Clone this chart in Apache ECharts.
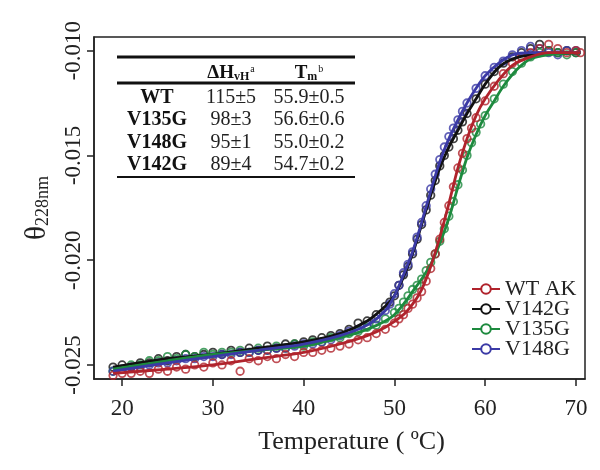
<!DOCTYPE html>
<html><head><meta charset="utf-8">
<script src="https://cdn.jsdelivr.net/npm/echarts@6/dist/echarts.min.js"></script>
<style>html,body{margin:0;padding:0;background:#fff}#c{width:600px;height:470px}</style>
</head><body><div id="c"></div>
<script>
const seriesNames = ['WT AK', 'V142G', 'V135G', 'V148G'];
const colors = ['#b0232c', '#111111', '#1d8a3e', '#3b3aa6'];
const xTicks = [20, 30, 40, 50, 60, 70];
const yTicks = [-0.025, -0.020, -0.015, -0.010];

const tableRows = ['WT', 'V135G', 'V148G', 'V142G'];
const tableDH = ['115±5', '98±3', '95±1', '89±4'];
const tableTm = ['55.9±0.5', '56.6±0.6', '55.0±0.2', '54.7±0.2'];

const fitWT = [[19,-0.0254],[25,-0.0252],[30,-0.0250],[35,-0.0247],[40,-0.0244],[44,-0.0240],[47,-0.0236],[49,-0.0232],[51,-0.0226],[52,-0.0221],[53,-0.0214],[54,-0.0203],[55,-0.0189],[56,-0.0173],[57,-0.0156],[58,-0.0142],[59,-0.0131],[60,-0.0123],[61.5,-0.0114],[63,-0.0107],[65,-0.0103],[67,-0.0101],[70.5,-0.0101]];
const fitV142G = [[19,-0.0251],[25,-0.0247],[30,-0.0245],[35,-0.0242],[40,-0.0239],[44,-0.0235],[47,-0.0229],[49,-0.0222],[50,-0.0217],[51,-0.0208],[52,-0.0197],[53,-0.0183],[54,-0.0169],[55,-0.0156],[56,-0.0146],[57,-0.0138],[58,-0.0130],[59,-0.0123],[60,-0.0116],[61.5,-0.0108],[63,-0.0104],[65,-0.0102],[70.5,-0.0101]];
const fitV135G = [[19,-0.0252],[25,-0.0248],[30,-0.0245],[35,-0.0243],[40,-0.0241],[44,-0.0237],[47,-0.0233],[49,-0.0229],[50,-0.0226],[51,-0.0221],[52,-0.0215],[53,-0.0209],[54,-0.0202],[55,-0.0192],[56,-0.0180],[57,-0.0165],[58,-0.0151],[59,-0.0140],[60,-0.0131],[61,-0.0124],[62,-0.0117],[63.5,-0.0109],[65,-0.0104],[67,-0.0102],[70.5,-0.0101]];
const fitV148G = [[19,-0.0253],[25,-0.0249],[30,-0.0246],[35,-0.0243],[40,-0.0240],[44,-0.0236],[47,-0.0231],[49,-0.0224],[50,-0.0217],[51,-0.0207],[52,-0.0196],[53,-0.0182],[54,-0.0167],[55,-0.0153],[56,-0.0142],[57,-0.0133],[58,-0.0125],[59,-0.0118],[60,-0.0112],[61.5,-0.0106],[63,-0.0102],[65,-0.0101],[70.5,-0.0101]];

const ptsWT = [[19,-0.0255],[20,-0.0254],[21,-0.0254],[22,-0.0253],[23,-0.0254],[24,-0.0252],[25,-0.0253],[26,-0.0251],[27,-0.0252],[28,-0.0250],[29,-0.0251],[30,-0.0249],[31,-0.0250],[32,-0.0248],[33,-0.0253],[34,-0.0247],[35,-0.0248],[36,-0.0246],[37,-0.0247],[38,-0.0245],[39,-0.0246],[40,-0.0244],[41,-0.0244],[42,-0.0243],[43,-0.0242],[44,-0.0241],[45,-0.0240],[46,-0.0238],[47,-0.0237],[48,-0.0235],[49,-0.0233],[50,-0.0230],[50.5,-0.0228],[51,-0.0226],[51.5,-0.0223],[52,-0.0221],[52.5,-0.0218],[53,-0.0215],[53.5,-0.0210],[54,-0.0204],[54.5,-0.0197],[55,-0.0190],[55.5,-0.0182],[56,-0.0174],[56.5,-0.0165],[57,-0.0156],[57.5,-0.0149],[58,-0.0142],[58.5,-0.0137],[59,-0.0132],[60,-0.0124],[61,-0.0117],[62,-0.0111],[63,-0.0106],[64,-0.0103],[65,-0.0101],[66,-0.0099],[67,-0.0097],[68,-0.0099],[69,-0.0101],[70,-0.0100],[70.5,-0.0101]];
const ptsV142G = [[19,-0.0251],[20,-0.0250],[21,-0.0251],[22,-0.0249],[23,-0.0249],[24,-0.0247],[25,-0.0248],[26,-0.0246],[27,-0.0245],[28,-0.0246],[29,-0.0245],[30,-0.0244],[31,-0.0245],[32,-0.0243],[33,-0.0244],[34,-0.0242],[35,-0.0243],[36,-0.0241],[37,-0.0242],[38,-0.0240],[39,-0.0240],[40,-0.0239],[41,-0.0238],[42,-0.0237],[43,-0.0236],[44,-0.0235],[45,-0.0233],[46,-0.0230],[47,-0.0229],[48,-0.0226],[49,-0.0222],[49.5,-0.0220],[50,-0.0217],[50.5,-0.0212],[51,-0.0207],[51.5,-0.0203],[52,-0.0197],[52.5,-0.0190],[53,-0.0183],[53.5,-0.0176],[54,-0.0169],[54.5,-0.0162],[55,-0.0155],[55.5,-0.0150],[56,-0.0146],[56.5,-0.0142],[57,-0.0138],[57.5,-0.0134],[58,-0.0130],[59,-0.0123],[60,-0.0116],[61,-0.0110],[62,-0.0106],[63,-0.0103],[64,-0.0101],[65,-0.0099],[66,-0.0097],[67,-0.0100],[68,-0.0101],[69,-0.0100],[70,-0.0101]];
const ptsV135G = [[19,-0.0253],[20,-0.0252],[21,-0.0250],[22,-0.0250],[23,-0.0248],[24,-0.0248],[25,-0.0246],[26,-0.0247],[27,-0.0245],[28,-0.0246],[29,-0.0244],[30,-0.0245],[31,-0.0244],[32,-0.0244],[33,-0.0243],[34,-0.0244],[35,-0.0242],[36,-0.0243],[37,-0.0241],[38,-0.0242],[39,-0.0240],[40,-0.0241],[41,-0.0239],[42,-0.0239],[43,-0.0237],[44,-0.0237],[45,-0.0235],[46,-0.0234],[47,-0.0232],[48,-0.0231],[49,-0.0228],[50,-0.0225],[50.5,-0.0223],[51,-0.0220],[51.5,-0.0217],[52,-0.0214],[52.5,-0.0212],[53,-0.0209],[53.5,-0.0205],[54,-0.0201],[54.5,-0.0197],[55,-0.0191],[55.5,-0.0185],[56,-0.0179],[56.5,-0.0172],[57,-0.0164],[57.5,-0.0157],[58,-0.0150],[58.5,-0.0144],[59,-0.0139],[59.5,-0.0135],[60,-0.0131],[61,-0.0123],[62,-0.0116],[63,-0.0110],[64,-0.0106],[65,-0.0103],[66,-0.0101],[67,-0.0100],[68,-0.0101],[69,-0.0102],[70,-0.0101]];
const ptsV148G = [[19,-0.0253],[20,-0.0252],[21,-0.0251],[22,-0.0251],[23,-0.0250],[24,-0.0249],[25,-0.0249],[26,-0.0248],[27,-0.0247],[28,-0.0247],[29,-0.0246],[30,-0.0246],[31,-0.0245],[32,-0.0245],[33,-0.0244],[34,-0.0244],[35,-0.0243],[36,-0.0243],[37,-0.0242],[38,-0.0242],[39,-0.0241],[40,-0.0240],[41,-0.0240],[42,-0.0239],[43,-0.0238],[44,-0.0236],[45,-0.0234],[46,-0.0233],[47,-0.0231],[48,-0.0228],[49,-0.0224],[49.5,-0.0221],[50,-0.0216],[50.5,-0.0212],[51,-0.0206],[51.5,-0.0202],[52,-0.0196],[52.5,-0.0189],[53,-0.0182],[53.5,-0.0174],[54,-0.0166],[54.5,-0.0159],[55,-0.0152],[55.5,-0.0146],[56,-0.0141],[56.5,-0.0137],[57,-0.0133],[57.5,-0.0129],[58,-0.0125],[59,-0.0118],[60,-0.0112],[61,-0.0108],[62,-0.0105],[63,-0.0102],[64,-0.0100],[65,-0.0098],[66,-0.0099],[67,-0.0101],[68,-0.0102],[69,-0.0100],[70,-0.0100]];

const fits = [fitWT, fitV142G, fitV135G, fitV148G];
const pts = [ptsWT, ptsV142G, ptsV135G, ptsV148G];

const SERIF = '"Liberation Serif", "DejaVu Serif", serif';
const chart = echarts.init(document.getElementById('c'));

const drawOrder = [1, 2, 3, 0];
const series = [];
drawOrder.forEach((i, k) => {
  series.push({
    name: seriesNames[i], type: 'line', data: fits[i], smooth: 0.3,
    symbol: 'emptyCircle', symbolSize: 8, showSymbol: false,
    lineStyle: { color: colors[i], width: 2.8 },
    itemStyle: { color: colors[i], borderColor: colors[i], borderWidth: 2.5 },
    z: 10 + k, silent: true
  });
});
drawOrder.forEach((i, k) => {
  series.push({
    name: seriesNames[i], type: 'scatter', data: pts[i],
    symbol: 'circle', symbolSize: 7.5,
    itemStyle: { color: 'rgba(255,255,255,0)', borderColor: colors[i], borderWidth: 1.8 },
    z: 2 + k, silent: true
  });
});

// table graphics
const tblX0 = 117, tblX1 = 355;
const colX = [157, 231, 309];
const rowY = [98, 120, 143, 165];
const graphics = [
  { type: 'line', shape: { x1: tblX0, y1: 57, x2: tblX1, y2: 57 }, style: { stroke: '#111', lineWidth: 3 } },
  { type: 'line', shape: { x1: tblX0, y1: 83, x2: tblX1, y2: 83 }, style: { stroke: '#111', lineWidth: 3 } },
  { type: 'line', shape: { x1: tblX0, y1: 177, x2: tblX1, y2: 177 }, style: { stroke: '#111', lineWidth: 2 } },
  { type: 'text', x: colX[1], y: 73, style: {
      text: '{m|ΔH}{s|vH}{p|a}', align: 'center', verticalAlign: 'middle',
      rich: { m: { fontFamily: SERIF, fontSize: 19, fontWeight: 'bold', fill: '#111' },
              s: { fontFamily: SERIF, fontSize: 12, fontWeight: 'bold', fill: '#111', padding: [8, 0, 0, 0] },
              p: { fontFamily: SERIF, fontSize: 10, fill: '#111', padding: [0, 0, 8, 1] } } } },
  { type: 'text', x: colX[2], y: 73, style: {
      text: '{m|T}{s|m}{p|b}', align: 'center', verticalAlign: 'middle',
      rich: { m: { fontFamily: SERIF, fontSize: 19, fontWeight: 'bold', fill: '#111' },
              s: { fontFamily: SERIF, fontSize: 12, fontWeight: 'bold', fill: '#111', padding: [8, 0, 0, 0] },
              p: { fontFamily: SERIF, fontSize: 10, fill: '#111', padding: [0, 0, 8, 1] } } } }
];
tableRows.forEach((r, i) => {
  graphics.push({ type: 'text', x: colX[0], y: rowY[i], style: { text: r, align: 'center', verticalAlign: 'middle', fontFamily: SERIF, fontSize: 20, fontWeight: 'bold', fill: '#111' } });
  graphics.push({ type: 'text', x: colX[1], y: rowY[i], style: { text: tableDH[i], align: 'center', verticalAlign: 'middle', fontFamily: SERIF, fontSize: 20, fill: '#222' } });
  graphics.push({ type: 'text', x: colX[2], y: rowY[i], style: { text: tableTm[i], align: 'center', verticalAlign: 'middle', fontFamily: SERIF, fontSize: 20, fill: '#222' } });
});

chart.setOption({
  animation: false,
  backgroundColor: '#fff',
  grid: { left: 94, right: 15, top: 37, bottom: 91, show: true, borderColor: '#222', borderWidth: 1.5, backgroundColor: 'transparent' },
  legend: {
    data: seriesNames, orient: 'vertical', left: 466, top: 273,
    itemWidth: 28, itemHeight: 12, itemGap: -2,
    textStyle: { fontFamily: SERIF, fontSize: 22, color: '#222', lineHeight: 19 },
    selectedMode: false
  },
  xAxis: {
    type: 'value', min: 16.9, max: 71,
    name: 'Temperature ( ºC)', nameLocation: 'middle', nameGap: 50,
    nameTextStyle: { fontFamily: SERIF, fontSize: 26, color: '#222', padding: [0, 0, 0, 24] },
    axisLine: { show: true, onZero: false, lineStyle: { color: '#222', width: 1.5 } },
    axisTick: { show: true, length: 7, lineStyle: { color: '#222', width: 1.5 }, customValues: xTicks },
    axisLabel: { fontFamily: SERIF, fontSize: 23, color: '#222', margin: 18, customValues: xTicks },
    splitLine: { show: false }
  },
  yAxis: {
    type: 'value', min: -0.02567, max: -0.00935,
    name: '{t|θ}{s|228nm}', nameLocation: 'middle', nameGap: 42, nameRotate: 90,
    nameTextStyle: { padding: [0, 0, 0, 0], rich: {
      t: { fontFamily: SERIF, fontSize: 29, color: '#222', verticalAlign: 'bottom' },
      s: { fontFamily: SERIF, fontSize: 18, color: '#222', verticalAlign: 'bottom' } } },
    axisLine: { show: true, onZero: false, lineStyle: { color: '#222', width: 1.5 } },
    axisTick: { show: true, length: 7, lineStyle: { color: '#222', width: 1.5 }, customValues: yTicks },
    axisLabel: { fontFamily: SERIF, fontSize: 23, color: '#222', margin: 9, rotate: 90, customValues: yTicks,
      formatter: v => v.toFixed(3) },
    splitLine: { show: false }
  },
  graphic: graphics,
  series: series
});
</script></body></html>
